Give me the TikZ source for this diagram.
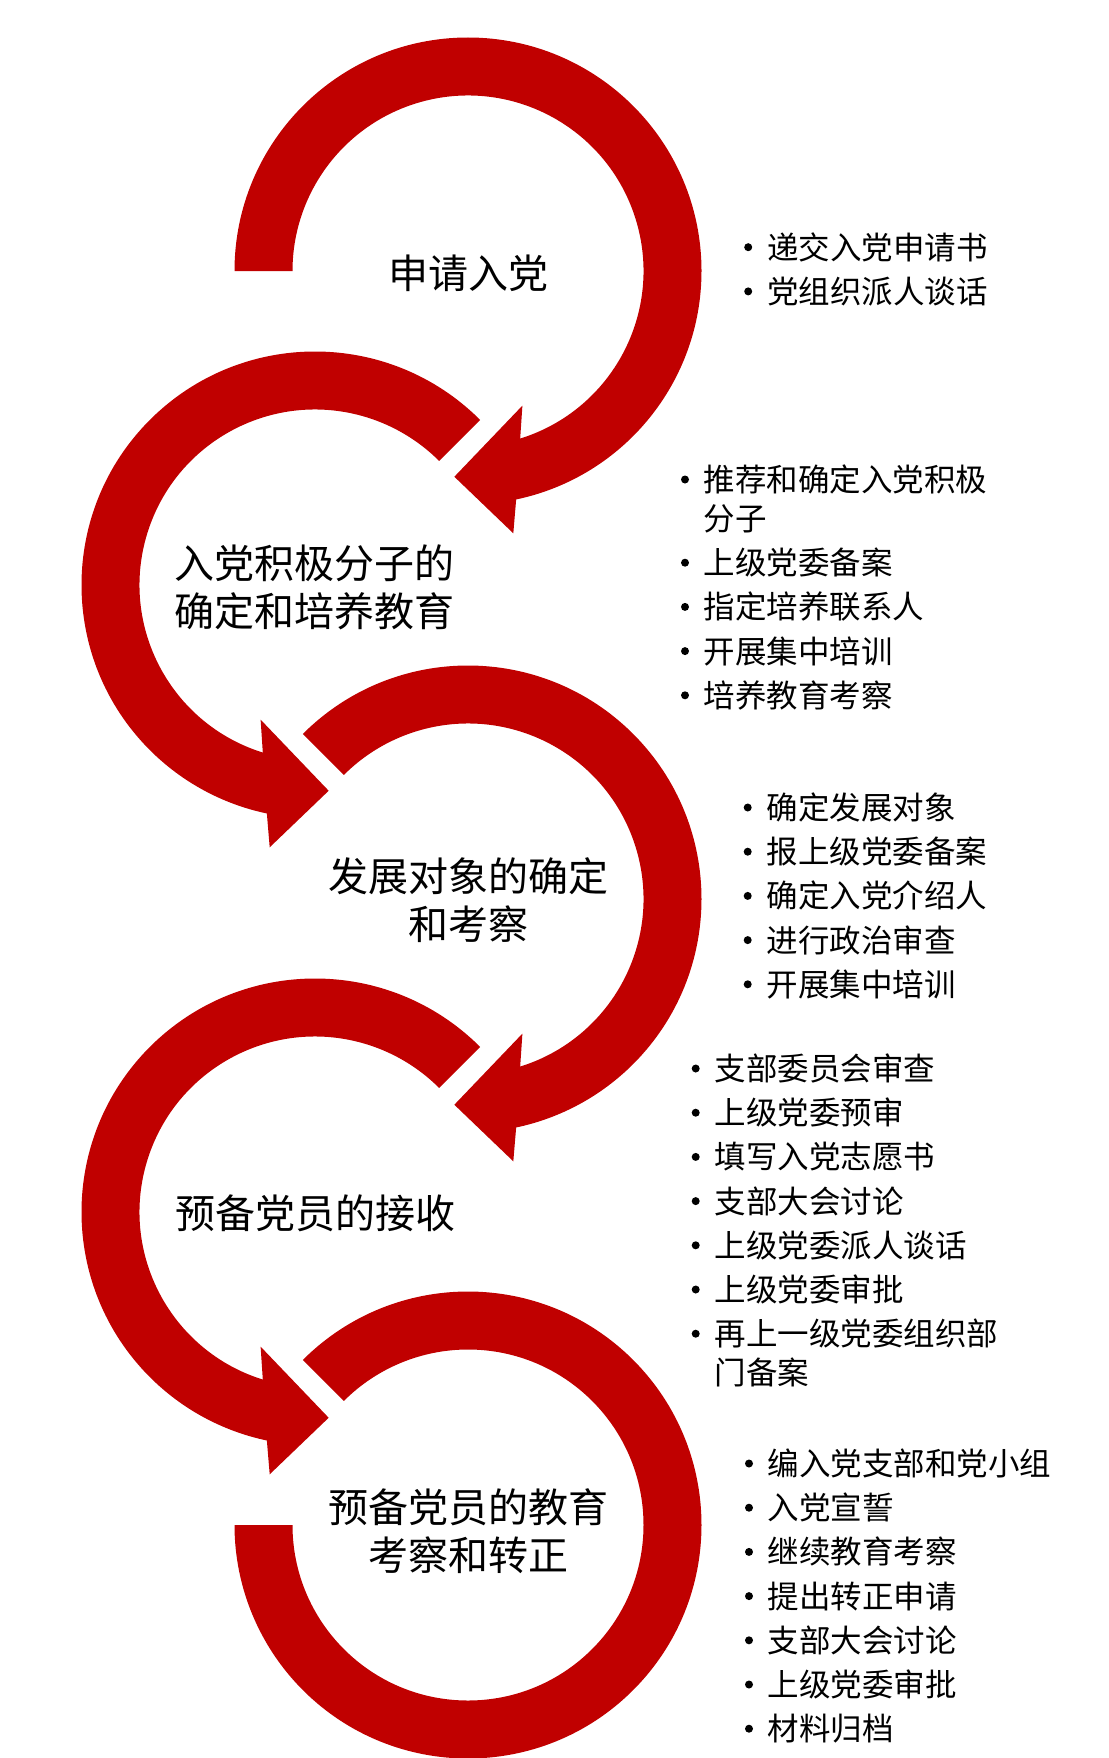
\documentclass[tikz,border=0pt]{standalone}
\usepackage{fontspec}
\newfontfamily\songti{Noto Sans CJK SC}
\usepackage{tikz}
\usetikzlibrary{matrix}
\definecolor{ringred}{RGB}{192,0,0}
\tikzset{
  ring/.style={fill=ringred},
  stage/.style={font=\songti\fontsize{40}{48}\selectfont, align=center, inner sep=0pt},
  item/.style={font=\songti\fontsize{31.5}{38}\selectfont, anchor=west, inner sep=0pt,
    text height=27.7pt, text depth=3.8pt},
  dotmark/.style={circle, fill=black, minimum size=8pt, inner sep=0pt, font=\tiny,
    text height=0pt, text depth=0pt, anchor=east, label distance=14.5pt},
  bl/.style={label={[dotmark]left:}},
  steps/.style={matrix of nodes, nodes={item}, row sep=12.7pt, inner sep=0pt,
    matrix anchor=north west},
}

\begin{document}
\begin{tikzpicture}[x=1pt,y=1pt]
  \useasboundingbox (0,0) rectangle (1108,-1758);

  \coordinate (c1) at (468,-271);
  \coordinate (c2) at (315,-585);
  \coordinate (c3) at (468,-899);
  \coordinate (c4) at (315,-1212);
  \coordinate (c5) at (468,-1525);

  % circular arrows
  \fill[ring,shift={(c1)}] (180:233.5) arc[start angle=180,end angle=-78.1,radius=233.5]
    -- (-80.2:266.2) -- (-93.8:206.2) -- (-68:145.2) -- (-72.7:175.5)
    arc[start angle=-72.7,end angle=180,radius=175.5] -- cycle;
  \fill[ring,shift={(c2)}] (45:233.5) arc[start angle=45,end angle=258.1,radius=233.5]
    -- (260.2:266.2) -- (273.8:206.2) -- (248:145.2) -- (252.7:175.5)
    arc[start angle=252.7,end angle=45,radius=175.5] -- cycle;
  \fill[ring,shift={(c3)}] (135:233.5) arc[start angle=135,end angle=-78.1,radius=233.5]
    -- (-80.2:266.2) -- (-93.8:206.2) -- (-68:145.2) -- (-72.7:175.5)
    arc[start angle=-72.7,end angle=135,radius=175.5] -- cycle;
  \fill[ring,shift={(c4)}] (45:233.5) arc[start angle=45,end angle=258.1,radius=233.5]
    -- (260.2:266.2) -- (273.8:206.2) -- (248:145.2) -- (252.7:175.5)
    arc[start angle=252.7,end angle=45,radius=175.5] -- cycle;
  \fill[ring,shift={(c5)}] (135:233.5) arc[start angle=135,end angle=-180,radius=233.5]
    -- (180:175.5) arc[start angle=-180,end angle=135,radius=175.5] -- cycle;

  % stage titles
  \node[stage] (s1) at (468,-273) {申请入党};
  \node[stage] (s2) at (314,-587) {入党积极分子的\\确定和培养教育};
  \node[stage] (s3) at (468,-900) {发展对象的确定\\和考察};
  \node[stage] (s4) at (315,-1213) {预备党员的接收};
  \node[stage] (s5) at (468,-1531) {预备党员的教育\\考察和转正};

  % lists
  \matrix[steps] (l1) at (744,-231.25) {
    |[bl]| 递交入党申请书 \\
    |[bl]| 党组织派人谈话 \\
  };
  \matrix[steps] (l2) at (680.8,-463.55) {
    |[bl]| 推荐和确定入党积极 \\[-5.2pt]
    分子 \\
    |[bl]| 上级党委备案 \\
    |[bl]| 指定培养联系人 \\
    |[bl]| 开展集中培训 \\
    |[bl]| 培养教育考察 \\
  };
  \matrix[steps] (l3) at (743.5,-791.55) {
    |[bl]| 确定发展对象 \\
    |[bl]| 报上级党委备案 \\
    |[bl]| 确定入党介绍人 \\
    |[bl]| 进行政治审查 \\
    |[bl]| 开展集中培训 \\
  };
  \matrix[steps] (l4) at (691.5,-1052.55) {
    |[bl]| 支部委员会审查 \\
    |[bl]| 上级党委预审 \\
    |[bl]| 填写入党志愿书 \\
    |[bl]| 支部大会讨论 \\
    |[bl]| 上级党委派人谈话 \\
    |[bl]| 上级党委审批 \\
    |[bl]| 再上一级党委组织部 \\[-5.2pt]
    门备案 \\
  };
  \matrix[steps] (l5) at (744.8,-1447.55) {
    |[bl]| 编入党支部和党小组 \\
    |[bl]| 入党宣誓 \\
    |[bl]| 继续教育考察 \\
    |[bl]| 提出转正申请 \\
    |[bl]| 支部大会讨论 \\
    |[bl]| 上级党委审批 \\
    |[bl]| 材料归档 \\
  };
\end{tikzpicture}
\end{document}
